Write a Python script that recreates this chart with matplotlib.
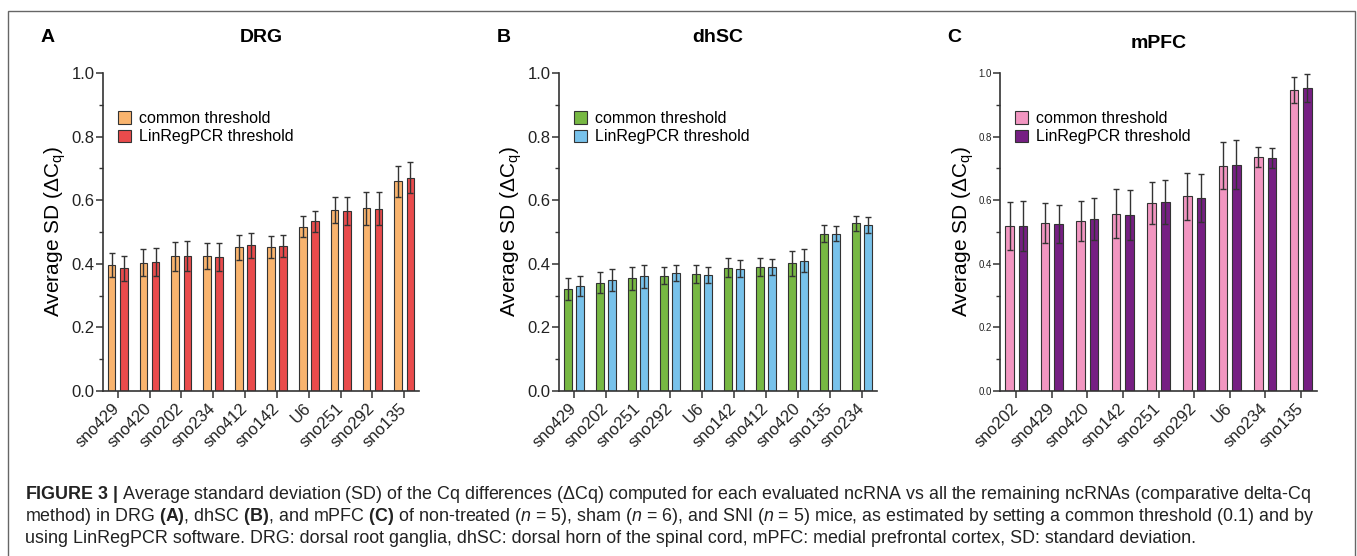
import numpy as np
import matplotlib
matplotlib.use("Agg")
import matplotlib.pyplot as plt
from matplotlib.patches import Patch, Rectangle

plt.rcParams["font.family"] = ["Liberation Sans", "DejaVu Sans"]
plt.rcParams["mathtext.fontset"] = "custom"
plt.rcParams["mathtext.rm"] = "Liberation Sans"
plt.rcParams["mathtext.bf"] = "Liberation Sans:bold"
plt.rcParams["mathtext.it"] = "Liberation Sans:italic"
plt.rcParams["mathtext.default"] = "regular"

# ---- data ----
drg_genes = ["sno429", "sno420", "sno202", "sno234", "sno412", "sno142", "U6", "sno251", "sno292", "sno135"]
drg_common = [0.396, 0.404, 0.423, 0.425, 0.452, 0.452, 0.517, 0.569, 0.574, 0.660]
drg_common_err = [0.039, 0.043, 0.046, 0.041, 0.039, 0.034, 0.033, 0.040, 0.051, 0.049]
drg_linreg = [0.386, 0.406, 0.424, 0.421, 0.458, 0.456, 0.534, 0.566, 0.573, 0.671]
drg_linreg_err = [0.040, 0.045, 0.047, 0.043, 0.039, 0.035, 0.033, 0.043, 0.052, 0.049]

dhsc_genes = ["sno429", "sno202", "sno251", "sno292", "U6", "sno142", "sno412", "sno420", "sno135", "sno234"]
dhsc_common = [0.320, 0.341, 0.354, 0.363, 0.369, 0.387, 0.390, 0.401, 0.495, 0.527]
dhsc_common_err = [0.034, 0.034, 0.036, 0.026, 0.028, 0.030, 0.027, 0.038, 0.027, 0.024]
dhsc_linreg = [0.330, 0.350, 0.361, 0.371, 0.364, 0.385, 0.390, 0.409, 0.495, 0.522]
dhsc_linreg_err = [0.031, 0.035, 0.036, 0.025, 0.025, 0.028, 0.026, 0.036, 0.024, 0.026]

mpfc_genes = ["sno202", "sno429", "sno420", "sno142", "sno251", "sno292", "U6", "sno234", "sno135"]
mpfc_common = [0.519, 0.528, 0.535, 0.558, 0.591, 0.612, 0.709, 0.735, 0.946]
mpfc_common_err = [0.076, 0.064, 0.062, 0.078, 0.067, 0.073, 0.074, 0.031, 0.041]
mpfc_linreg = [0.518, 0.525, 0.540, 0.554, 0.594, 0.607, 0.712, 0.732, 0.953]
mpfc_linreg_err = [0.079, 0.061, 0.066, 0.078, 0.068, 0.074, 0.078, 0.031, 0.045]

legend_labels = ["common threshold", "LinRegPCR threshold"]
panel_titles = ["DRG", "dhSC", "mPFC"]
panel_letters = ["A", "B", "C"]

PANELS = [
    (drg_genes, drg_common, drg_common_err, drg_linreg, drg_linreg_err, ("#F9B46E", "#E94B4C")),
    (dhsc_genes, dhsc_common, dhsc_common_err, dhsc_linreg, dhsc_linreg_err, ("#77B843", "#78C2EB")),
    (mpfc_genes, mpfc_common, mpfc_common_err, mpfc_linreg, mpfc_linreg_err, ("#F296C1", "#761F83")),
]

W, H = 1357, 556
fig = plt.figure(figsize=(W / 100, H / 100), dpi=100)

# axes boxes in pixels: left, right
ax_px = [(103, 419), (559, 877), (1000, 1317)]
top_px, bot_px = 73, 391
ytick_fs = [12, 12, 7]
ylabel_x = [55, 511, 963]
letter_x = [41, 497, 947]
title_y = [38, 38, 43]

for i, (genes, c, ce, l, le, cols) in enumerate(PANELS):
    x0, x1 = ax_px[i]
    ax = fig.add_axes([x0 / W, 1 - bot_px / H, (x1 - x0) / W, (bot_px - top_px) / H])
    x = np.arange(len(genes))
    bw = 0.24
    ekw = dict(ecolor="#333333", elinewidth=1.0, capsize=2.2, capthick=1.0)
    ax.bar(x - 0.19, c, bw, yerr=ce, color=cols[0], edgecolor="#333333",
           linewidth=0.8, error_kw=ekw)
    ax.bar(x + 0.19, l, bw, yerr=le, color=cols[1], edgecolor="#333333",
           linewidth=0.8, error_kw=ekw)

    ax.set_ylim(0, 1.0)
    ax.set_xlim(-0.46, len(genes) - 0.54)
    ax.set_yticks(np.arange(0, 1.01, 0.2))
    ax.set_yticks(np.arange(0.1, 1.0, 0.2), minor=True)
    ax.set_yticklabels([f"{v:.1f}" for v in np.arange(0, 1.01, 0.2)], fontsize=ytick_fs[i],
                       color="#222222")
    ax.set_xticks(x)
    ax.set_xticklabels(genes, rotation=45, ha="right", va="center",
                       rotation_mode="anchor", fontsize=12, color="#222222")
    ax.tick_params(axis="y", which="major", length=5, width=1.1, pad=1, color="#333333")
    ax.tick_params(axis="y", which="minor", length=3, width=1.0, color="#333333")
    ax.tick_params(axis="x", length=5, width=1.1, pad=6, color="#333333")
    for s in ["top", "right"]:
        ax.spines[s].set_visible(False)
    for s in ["left", "bottom"]:
        ax.spines[s].set_linewidth(1.2)
        ax.spines[s].set_color("#333333")

    fig.text(ylabel_x[i] / W, 1 - (bot_px + top_px) / 2 / H, r"Average SD ($\Delta$C$_q$)",
             rotation=90, ha="center", va="center", fontsize=15)

    handles = [Patch(facecolor=cols[0], edgecolor="#333333", linewidth=0.8),
               Patch(facecolor=cols[1], edgecolor="#333333", linewidth=0.8)]
    ax.legend(handles, legend_labels, loc="upper left",
              bbox_to_anchor=(15 / (x1 - x0), (bot_px - 111) / (bot_px - top_px)),
              frameon=False, fontsize=11.5, handlelength=0.8, handleheight=0.8,
              handletextpad=0.5, labelspacing=0.2, borderpad=0, borderaxespad=0)

    fig.text((x0 + x1) / 2 / W, 1 - title_y[i] / H, panel_titles[i],
             ha="center", va="center", fontsize=14, fontweight="bold")
    fig.text(letter_x[i] / W, 1 - title_y[0] / H, panel_letters[i],
             ha="left", va="center", fontsize=14, fontweight="bold")

# outer frame
fig.add_artist(Rectangle((8 / W, -0.05), (1355 - 8) / W, 1.05 - 11 / H,
                         transform=fig.transFigure, fill=False,
                         edgecolor="#666666", linewidth=1.0))

cap_lines = [
    r"$\mathbf{FIGURE\ 3\ |}$ Average standard deviation (SD) of the Cq differences (ΔCq) computed for each evaluated ncRNA vs all the remaining ncRNAs (comparative delta-Cq",
    r"method) in DRG $\mathbf{(A)}$, dhSC $\mathbf{(B)}$, and mPFC $\mathbf{(C)}$ of non-treated ($\mathit{n}$ = 5), sham ($\mathit{n}$ = 6), and SNI ($\mathit{n}$ = 5) mice, as estimated by setting a common threshold (0.1) and by",
    r"using LinRegPCR software. DRG: dorsal root ganglia, dhSC: dorsal horn of the spinal cord, mPFC: medial prefrontal cortex, SD: standard deviation.",
]
for k, line in enumerate(cap_lines):
    fig.text(25 / W, 1 - (499 + 22 * k) / H, line, ha="left", va="baseline",
             fontsize=12.9, color="#222222")

fig.savefig("out.png", dpi=100)
